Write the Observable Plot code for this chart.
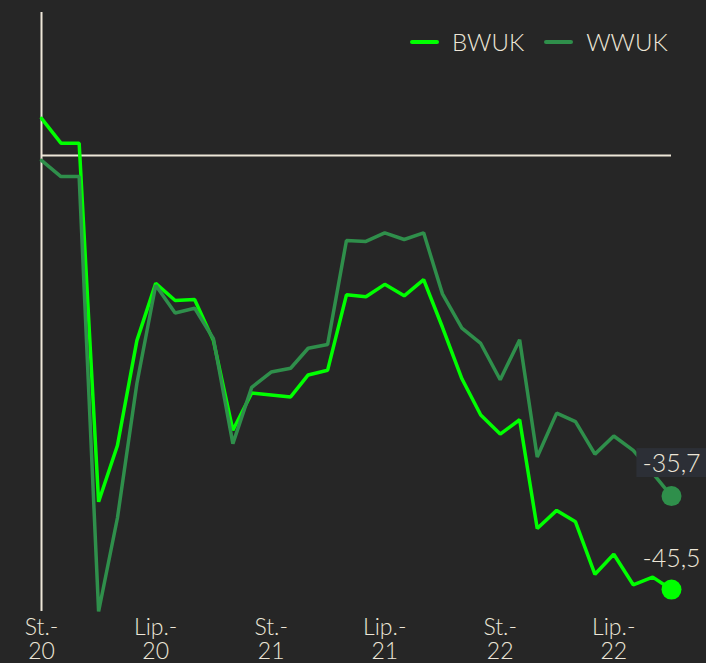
<!DOCTYPE html>
<html><head><meta charset="utf-8">
<script src="https://cdn.jsdelivr.net/npm/d3@7"></script>
<script src="https://cdn.jsdelivr.net/npm/@observablehq/plot@0.6"></script>
<style>
html,body{margin:0;padding:0;background:#262626;}
#wrap{position:relative;width:706px;height:663px;background:#262626;font-family:Lato, "Open Sans", sans-serif;color:#ede6d8;overflow:hidden;}
#wrap svg{position:absolute;left:0;top:0;}
.legend{position:absolute;top:27px;left:410px;display:flex;align-items:center;font-size:24px;font-weight:300;z-index:2;}
.sw{display:inline-block;width:29px;height:4px;border-radius:2px;margin-right:13px;}
.item{display:flex;align-items:center;margin-right:20px;}
</style></head><body>
<div id="wrap"></div>
<script>
const months = ["2020-01","2020-02","2020-03","2020-04","2020-05","2020-06","2020-07","2020-08","2020-09","2020-10","2020-11","2020-12",
  "2021-01","2021-02","2021-03","2021-04","2021-05","2021-06","2021-07","2021-08","2021-09","2021-10","2021-11","2021-12",
  "2022-01","2022-02","2022-03","2022-04","2022-05","2022-06","2022-07","2022-08","2022-09","2022-10"];
const bwuk = [3.9, 1.3, 1.3, -36.3, -30.4, -19.4, -13.4, -15.2, -15.1, -19.4, -28.8, -24.9,
  -25.1, -25.3, -23.0, -22.5, -14.6, -14.8, -13.5, -14.7, -13.0, -18.0, -23.4, -27.2,
  -29.2, -27.7, -39.1, -37.2, -38.4, -43.9, -41.8, -45.0, -44.2, -45.5];
const wwuk = [-0.5, -2.2, -2.2, -47.8, -38.0, -23.9, -13.6, -16.5, -16.0, -19.2, -30.2, -24.3,
  -22.7, -22.3, -20.2, -19.8, -8.9, -9.0, -8.1, -8.8, -8.1, -14.5, -18.1, -19.7,
  -23.5, -19.3, -31.6, -27.0, -27.9, -31.3, -29.4, -30.9, -33.3, -35.7];
const seriesNames = ["BWUK", "WWUK"];
const seriesColors = ["#00ff00", "#2f8f4b"];
const tickMonths = ["2020-01","2020-07","2021-01","2021-07","2022-01","2022-07"];
const tickLabels = ["St.-\n20","Lip.-\n20","St.-\n21","Lip.-\n21","St.-\n22","Lip.-\n22"];

const parse = s => new Date(s + "-01T00:00:00Z");
const dates = months.map(parse);
const tickDates = tickMonths.map(parse);
const rows = [];
dates.forEach((d, i) => {
  rows.push({date: d, value: bwuk[i], series: seriesNames[0]});
});
dates.forEach((d, i) => {
  rows.push({date: d, value: wwuk[i], series: seriesNames[1]});
});
const last = [
  {date: dates[dates.length-1], value: bwuk[bwuk.length-1], series: seriesNames[0]},
  {date: dates[dates.length-1], value: wwuk[wwuk.length-1], series: seriesNames[1]}
];
const fmt = v => v.toFixed(1).replace(".", ",");
const textColor = "#ede6d8";

const plot = Plot.plot({
  width: 706, height: 663,
  marginLeft: 41, marginRight: 35, marginTop: 12, marginBottom: 52,
  style: {background: "transparent", color: textColor, fontFamily: "Lato, 'Open Sans', sans-serif", overflow: "visible"},
  x: {type: "utc", domain: [dates[0], dates[dates.length-1]]},
  y: {domain: [-47.8, 15], axis: null},
  color: {domain: seriesNames, range: seriesColors},
  marks: [
    Plot.ruleY([0], {stroke: textColor, strokeWidth: 2}),
    Plot.ruleX([dates[0]], {stroke: textColor, strokeWidth: 2}),
    Plot.line(rows.filter(r => r.series === seriesNames[0]), {x: "date", y: "value", stroke: "series", strokeWidth: 3.5, strokeLinejoin: "miter"}),
    Plot.line(rows.filter(r => r.series === seriesNames[1]), {x: "date", y: "value", stroke: "series", strokeWidth: 3.5, strokeLinejoin: "miter"}),
    Plot.dot(last, {x: "date", y: "value", fill: "series", r: 10}),
    Plot.text([last[1]], {x: "date", y: "value", text: d => fmt(d.value), dy: -24, lineAnchor: "bottom", fill: textColor, fontSize: 25, fontWeight: 300, className: "lbl-box"}),
    Plot.text([last[0]], {x: "date", y: "value", text: d => fmt(d.value), dy: -23, lineAnchor: "bottom", fill: textColor, fontSize: 25, fontWeight: 300}),
    Plot.axisX(tickDates, {tickSize: 0, tickPadding: 6, fontSize: 23, fontWeight: 300, lineHeight: 1.05, fill: textColor,
      tickFormat: d => tickLabels[tickDates.findIndex(t => +t === +d)]})
  ]
});
const wrap = document.getElementById("wrap");
wrap.appendChild(plot);

// background box behind the WWUK end label
const g = plot.querySelector("g.lbl-box");
if (g) {
  const t = g.querySelector("text");
  const bb = t.getBBox();
  const rect = document.createElementNS("http://www.w3.org/2000/svg", "rect");
  rect.setAttribute("x", bb.x - 6);
  rect.setAttribute("y", bb.y + 1);
  rect.setAttribute("width", bb.width + 14);
  rect.setAttribute("height", bb.height - 1);
  rect.setAttribute("fill", "#2c2f36");
  const tr = t.getAttribute("transform");
  if (tr) rect.setAttribute("transform", tr);
  t.parentNode.insertBefore(rect, t);
}

// legend
const legend = document.createElement("div");
legend.className = "legend";
seriesNames.forEach((name, i) => {
  const item = document.createElement("div");
  item.className = "item";
  const sw = document.createElement("span");
  sw.className = "sw";
  sw.style.background = seriesColors[i];
  const lab = document.createElement("span");
  lab.textContent = name;
  item.appendChild(sw); item.appendChild(lab);
  legend.appendChild(item);
});
wrap.appendChild(legend);
</script>
</body></html>
